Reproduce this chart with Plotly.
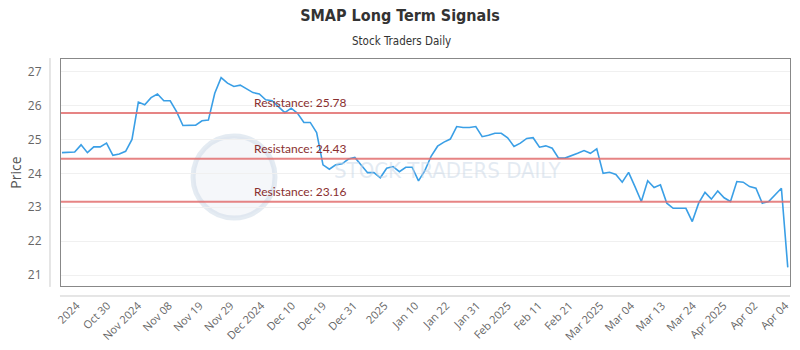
import plotly.graph_objects as go

# ---- data ----
prices = [
    24.61, 24.61, 24.63, 24.84, 24.61, 24.78, 24.78, 24.89, 24.53, 24.57,
    24.65, 25.00, 26.10, 26.02, 26.23, 26.34, 26.14, 26.14, 25.82, 25.41,
    25.41, 25.42, 25.55, 25.57, 26.36, 26.82, 26.66, 26.56, 26.60, 26.48,
    26.38, 26.34, 26.17, 26.14, 25.97, 25.79, 25.92, 25.77, 25.50, 25.50,
    25.20, 24.25, 24.12, 24.25, 24.28, 24.42, 24.47, 24.25, 24.02, 24.02,
    23.87, 24.15, 24.20, 24.05, 24.18, 24.18, 23.78, 24.08, 24.51, 24.80,
    24.92, 25.01, 25.38, 25.35, 25.35, 25.38, 25.08, 25.12, 25.18, 25.18,
    25.05, 24.79, 24.89, 25.03, 25.05, 24.77, 24.81, 24.74, 24.45, 24.45,
    24.51, 24.59, 24.67, 24.59, 24.72, 24.00, 24.03, 23.97, 23.74, 24.03,
    23.61, 23.17, 23.78, 23.58, 23.66, 23.12, 22.97, 22.97, 22.97, 22.58,
    23.12, 23.44, 23.24, 23.48, 23.28, 23.17, 23.76, 23.74, 23.61, 23.56,
    23.12, 23.17, 23.36, 23.56, 21.23,
]
days = list(range(len(prices)))

resistance_levels = [25.78, 24.43, 23.16]

tick_labels = [
    "2024", "Oct 30", "Nov 2024", "Nov 08", "Nov 19", "Nov 29", "Dec 2024",
    "Dec 10", "Dec 19", "Dec 31", "2025", "Jan 10", "Jan 22", "Jan 31",
    "Feb 2025", "Feb 11", "Feb 21", "Mar 2025", "Mar 04", "Mar 13", "Mar 24",
    "Apr 2025", "Apr 02", "Apr 04",
]
y_ticks = [21, 22, 23, 24, 25, 26, 27]

last = days[-1]
step = 4.84
tick_positions = [round(last - 0.4 - step * (len(tick_labels) - 1 - k), 2) for k in range(len(tick_labels))]

# ---- figure ----
fig = go.Figure()
fig.add_trace(go.Scatter(
    x=days, y=prices, mode="lines",
    line=dict(color="#3a9fe6", width=1.6),
    hoverinfo="skip", showlegend=False,
))

shapes = []
annotations = []
for lvl in resistance_levels:
    shapes.append(dict(type="line", xref="paper", yref="y", x0=0, x1=1, y0=lvl, y1=lvl,
                       line=dict(color="rgba(226,110,110,0.85)", width=2), layer="above"))
    annotations.append(dict(xref="paper", yref="y", x=0.262, y=lvl, xanchor="left", yanchor="bottom",
                            yshift=1, text=f"Resistance: {lvl:.2f}", showarrow=False,
                            font=dict(family="Lato, Roboto, sans-serif", size=12, color="#8a2f2f")))

# offset axis lines (decorative)
shapes.append(dict(type="line", xref="paper", yref="paper", x0=-0.0151, x1=-0.0151, y0=-0.004, y1=1.004,
                   line=dict(color="#cccccc", width=1)))
shapes.append(dict(type="line", xref="paper", yref="paper", x0=-0.0014, x1=1.0, y0=-0.044, y1=-0.044,
                   line=dict(color="#cccccc", width=1)))
# watermark logo circle
shapes.append(dict(type="circle", xref="paper", yref="paper", x0=0.1811, x1=0.2936, y0=0.2996, y1=0.6608,
                   line=dict(color="rgba(205,218,232,0.55)", width=5),
                   fillcolor="rgba(225,233,242,0.35)", layer="below"))

annotations.append(dict(xref="paper", yref="paper", x=0.5305, y=0.51, xanchor="center", yanchor="middle",
                        text="STOCK TRADERS DAILY", showarrow=False,
                        font=dict(family="Liberation Sans Narrow, DejaVu Sans Condensed, sans-serif",
                                  size=22, color="rgba(200,214,230,0.5)")))
annotations.append(dict(xref="paper", yref="paper", x=0.4674, y=1.079, xanchor="center", yanchor="middle",
                        text="Stock Traders Daily", showarrow=False,
                        font=dict(family="Liberation Sans Narrow, DejaVu Sans Condensed, sans-serif",
                                  size=11.5, color="#333333")))

fig.update_layout(
    width=800, height=350,
    margin=dict(l=61, r=10, t=59, b=64),
    paper_bgcolor="white", plot_bgcolor="white",
    title=dict(text="<b>SMAP Long Term Signals</b>", x=0.5, xref="container", xanchor="center",
               y=0.955, yref="container", yanchor="middle",
               font=dict(family="Liberation Sans Narrow, DejaVu Sans Condensed, sans-serif",
                         size=16, color="#333333")),
    shapes=shapes, annotations=annotations,
    xaxis=dict(
        range=[-0.15, last + 0.35], automargin=False,
        tickmode="array", tickvals=tick_positions, ticktext=tick_labels,
        tickangle=-45, showgrid=False, zeroline=False,
        showline=True, mirror=True, linecolor="#888888", linewidth=1,
        ticks="", ticklabelstandoff=8,
        tickfont=dict(family="Open Sans, sans-serif", size=11, color="#666666"),
    ),
    yaxis=dict(
        range=[20.68, 27.37], automargin=False,
        tickmode="array", tickvals=y_ticks,
        showgrid=True, gridcolor="#f0f0f0", zeroline=False,
        showline=True, mirror=True, linecolor="#888888", linewidth=1,
        ticks="", ticklabelstandoff=16,
        tickfont=dict(family="Open Sans, sans-serif", size=12, color="#666666"),
        title=dict(text="Price", standoff=2,
                   font=dict(family="Open Sans, sans-serif", size=14, color="#555555")),
    ),
)

fig.write_html("out.html")
